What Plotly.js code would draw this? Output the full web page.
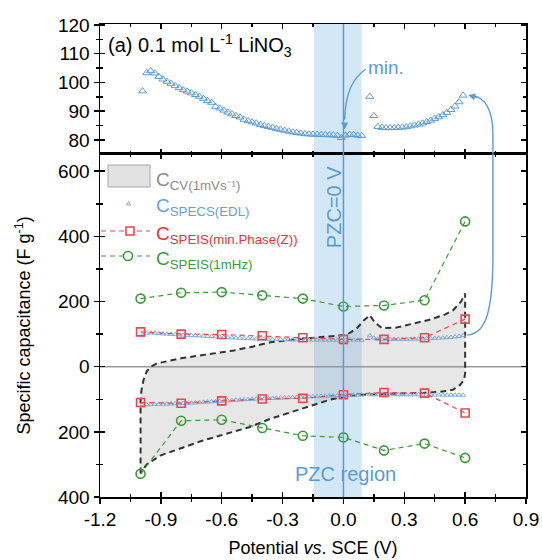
<!DOCTYPE html>
<html><head><meta charset="utf-8">
<script src="https://cdn.plot.ly/plotly-3.0.1.min.js"></script>
<style>html,body{margin:0;padding:0;background:#fff}#chart{width:542px;height:560px}</style>
</head><body><div id="chart"></div>
<script>
// ---- data ----
const potential = [-0.99,-0.97,-0.95,-0.93,-0.91,-0.89,-0.87,-0.85,-0.83,-0.81,
 -0.79,-0.77,-0.75,-0.73,-0.71,-0.69,-0.67,-0.65,-0.63,-0.61,
 -0.59,-0.57,-0.55,-0.53,-0.51,-0.49,-0.47,-0.45,-0.43,-0.41,
 -0.39,-0.37,-0.35,-0.33,-0.31,-0.29,-0.27,-0.25,-0.23,-0.21,
 -0.19,-0.17,-0.15,-0.13,-0.11,-0.09,-0.07,-0.05,-0.03,-0.01,
 0.01,0.03,0.05,0.07,0.09,
 0.13,0.15,0.17,0.19,0.21,0.23,0.25,0.27,0.29,0.31,
 0.33,0.35,0.37,0.39,0.41,0.43,0.45,0.47,0.49,0.51,
 0.53,0.55,0.57,0.59];
const specsPos = [97.0,103.3,104.0,103.2,102.0,101.1,100.3,99.6,98.8,98.1,
 97.4,96.9,96.3,95.7,95.1,94.4,93.6,93.0,91.6,91.0,
 90.3,89.6,89.0,88.4,87.9,87.1,86.6,86.2,85.8,85.3,
 84.9,84.6,84.3,83.9,83.6,83.3,83.0,82.7,82.5,82.3,
 82.1,82.0,81.9,81.9,81.8,81.8,81.7,81.7,81.5,80.8,
 81.6,81.9,81.8,81.6,81.4,
 95.1,88.4,84.6,84.3,84.2,84.2,84.2,84.3,84.4,84.5,
 84.8,85.1,85.4,85.8,86.3,86.8,87.4,88.0,88.7,89.5,
 90.5,91.7,93.2,95.5];
const specsNeg = [-117.0,-116.5,-116.0,-115.6,-115.2,-114.8,-114.4,-114.0,-113.6,-113.2,
 -112.6,-112.0,-111.3,-110.6,-109.8,-109.0,-108.2,-107.4,-106.6,-105.8,
 -105.0,-104.2,-103.4,-102.6,-101.8,-101.0,-100.3,-99.6,-99.0,-98.4,
 -97.8,-97.2,-96.7,-96.2,-95.7,-95.2,-94.7,-94.2,-93.7,-93.2,
 -92.7,-92.2,-91.7,-91.2,-90.7,-90.2,-89.7,-89.2,-88.7,-88.3,
 -88.0,-87.6,-87.2,-86.8,-86.5,
 -86.0,-85.8,-85.6,-85.5,-85.4,-85.4,-85.4,-85.5,-85.6,-85.7,
 -85.8,-85.9,-86.0,-86.1,-86.2,-86.3,-86.4,-86.5,-86.6,-86.7,
 -86.8,-86.9,-87.0,-87.2];
const speisX = [-1.0,-0.8,-0.6,-0.4,-0.2,0.0,0.2,0.4,0.6];
const phasePos = [107,100,99,95,89,84,84,89,146];
const phaseNeg = [-110,-112,-105,-99,-97,-86,-79,-81,-142];
const mhzPos = [209,227,229,219,209,185,188,204,446];
const mhzNeg = [-329,-166,-163,-188,-212,-217,-257,-236,-280];
const cvX = [-1.0,-1.0,-1.0,-0.995,-0.985,-0.97,-0.95,-0.92,-0.85,-0.8,-0.7,-0.62,-0.54,-0.46,-0.36,-0.2,-0.07,0.0,0.03,0.07,0.1,0.13,0.155,0.19,0.26,0.35,0.43,0.5,0.54,0.58,0.6,0.6,0.6,0.6,0.595,0.575,0.54,0.48,0.4,0.3,0.2,0.1,0.0,-0.07,-0.2,-0.36,-0.46,-0.54,-0.62,-0.7,-0.79,-0.9,-0.97,-0.99,-1.0];
const cvY = [-328,-200,-100,-70,-40,-15,0,10,20,26,35,42,50,60,75,86,92,97,103,120,142,158,136,118,120,132,145,160,173,200,225,150,50,-20,-40,-56,-71,-77,-80,-82,-84,-86,-92,-102,-128,-160,-185,-200,-215,-228,-248,-272,-300,-318,-328];
const xTickVals = [-1.2,-0.9,-0.6,-0.3,0.0,0.3,0.6,0.9];
const xTickText = ['-1.2','-0.9','-0.6','-0.3','0.0','0.3','0.6','0.9'];
const xMinor = [-1.05,-0.75,-0.45,-0.15,0.15,0.45,0.75];
const yTickVals = [-400,-200,0,200,400,600];
const yTickText = ['400','200','0','200','400','600'];
const yMinor = [-300,-100,100,300,500];
const y2TickVals = [80,90,100,110,120];
const y2Minor = [85,95,105,115];
const legendNames = ['C<sub>CV(1mVs⁻¹)</sub>','C<sub>SPECS(EDL)</sub>','C<sub>SPEIS(min.Phase(Z))</sub>','C<sub>SPEIS(1mHz)</sub>'];

// ---- style ----
const FONT = 'Liberation Sans, Arial, sans-serif';
const BLUE = '#5b9bd5', RED = '#e8484e', GREEN = '#3a9a3a';
const SPECSBLUE = '#7aaede';
const legendColors = ['#8c8c8c','#6a9fd4','#e8323c','#3c9c3c'];
const DOM = 0.7252;
const M = {l:100, r:16, t:24, b:63}, W = 542, H = 560;
const PW = W - M.l - M.r, PH = H - M.t - M.b;
const px = v => (v - M.l) / PW;           // pixel -> paper x
const py = v => (H - M.b - v) / PH;       // pixel -> paper y

const traces = [
 {x: cvX, y: cvY, mode:'lines', fill:'toself', fillcolor:'rgba(150,150,150,0.23)',
  line:{color:'#333', width:2, dash:'6px,4px'}, xaxis:'x', yaxis:'y', name:'CV'},
 {x: potential, y: specsPos, mode:'markers', marker:{symbol:'triangle-up-open', size:4.5, color:SPECSBLUE, line:{width:1}},
  xaxis:'x', yaxis:'y', name:'SPECS'},
 {x: potential, y: specsNeg, mode:'markers', marker:{symbol:'triangle-up-open', size:4.5, color:SPECSBLUE, line:{width:1}},
  xaxis:'x', yaxis:'y', name:'SPECS'},
 {x: speisX, y: phasePos, mode:'lines+markers', line:{color:RED, width:1.2, dash:'5px,4px'},
  marker:{symbol:'square-open', size:8, color:RED, line:{width:1.6}}, xaxis:'x', yaxis:'y', name:'phase'},
 {x: speisX, y: phaseNeg, mode:'lines+markers', line:{color:RED, width:1.2, dash:'5px,4px'},
  marker:{symbol:'square-open', size:8, color:RED, line:{width:1.6}}, xaxis:'x', yaxis:'y', name:'phase'},
 {x: speisX, y: mhzPos, mode:'lines+markers', line:{color:GREEN, width:1.2, dash:'5px,4px'},
  marker:{symbol:'circle-open', size:9, color:GREEN, line:{width:1.6}}, xaxis:'x', yaxis:'y', name:'mhz'},
 {x: speisX, y: mhzNeg, mode:'lines+markers', line:{color:GREEN, width:1.2, dash:'5px,4px'},
  marker:{symbol:'circle-open', size:9, color:GREEN, line:{width:1.6}}, xaxis:'x', yaxis:'y', name:'mhz'},
 {x: potential, y: specsPos, mode:'markers', marker:{symbol:'triangle-up-open', size:7, color:BLUE, line:{width:1}},
  xaxis:'x2', yaxis:'y2', name:'SPECS top'},
 // empty helper traces so the overlay tick axes exist
 {x: [], y: [], xaxis:'x3', yaxis:'y3', hoverinfo:'skip'},
 {x: [], y: [], xaxis:'x2', yaxis:'y4', hoverinfo:'skip'}
];

const baseAx = {showline:true, linecolor:'#000', linewidth:1.5, tickcolor:'#000', tickwidth:1.5,
  showgrid:false, zeroline:false, tickfont:{family:FONT, size:19, color:'#000'}};
const minorOut = vals => ({tickmode:'array', tickvals:vals, ticks:'outside', ticklen:3, tickcolor:'#000', tickwidth:1.5});
const minorIn = vals => ({tickmode:'array', tickvals:vals, ticks:'inside', ticklen:3, tickcolor:'#000', tickwidth:1.5});

// manual legend (rows at reference pixel positions)
const legendRows = [178, 204, 232, 257];
const legendShapes = [
 {type:'rect', xref:'paper', yref:'paper', x0:px(108), x1:px(150), y0:py(187), y1:py(165),
  fillcolor:'#e2e2e2', line:{color:'#a8a8a8', width:1}},
 {type:'path', xref:'paper', yref:'paper',
  path:`M ${px(126.5)},${py(205)} L ${px(130.5)},${py(205)} L ${px(128.5)},${py(201.5)} Z`,
  fillcolor:'rgba(0,0,0,0)', line:{color:SPECSBLUE, width:1}},
 {type:'line', xref:'paper', yref:'paper', x0:px(101), x1:px(150), y0:py(231), y1:py(231),
  line:{color:RED, width:1.2, dash:'5px,4px'}},
 {type:'rect', xref:'paper', yref:'paper', x0:px(126), x1:px(134), y0:py(235), y1:py(227),
  fillcolor:'#fff', line:{color:RED, width:1.6}},
 {type:'line', xref:'paper', yref:'paper', x0:px(101), x1:px(150), y0:py(256), y1:py(256),
  line:{color:GREEN, width:1.2, dash:'5px,4px'}},
 {type:'circle', xref:'paper', yref:'paper', x0:px(123.5), x1:px(132.5), y0:py(260.5), y1:py(251.5),
  fillcolor:'#fff', line:{color:GREEN, width:1.6}}
];
const legendAnn = legendNames.map((t, i) => ({xref:'paper', yref:'paper', x:px(154), y:py(legendRows[i] + 3),
  xanchor:'left', yanchor:'middle', showarrow:false, text:t,
  font:{family:FONT, size:19, color:legendColors[i]}}));

const layout = {
 width:W, height:H, margin:M,
 paper_bgcolor:'#fff', plot_bgcolor:'rgba(0,0,0,0)',
 font:{family:FONT, color:'#000'},
 showlegend:false,
 xaxis: Object.assign({}, baseAx, {domain:[0,1], anchor:'y', range:[-1.2,0.9],
  tickmode:'array', tickvals:xTickVals, ticktext:xTickText, ticks:'outside', ticklen:5,
  minor:minorOut(xMinor),
  title:{text:'Potential <i>vs</i>. SCE (V)', font:{family:FONT, size:18}, standoff:12}}),
 xaxis3: Object.assign({}, baseAx, {overlaying:'x', anchor:'y', range:[-1.2,0.9], mirror:'ticks',
  tickmode:'array', tickvals:xTickVals, ticks:'inside', ticklen:5, showticklabels:false, minor:minorIn(xMinor)}),
 xaxis2: Object.assign({}, baseAx, {domain:[0,1], anchor:'y2', range:[-1.2,0.9], mirror:'ticks',
  tickmode:'array', tickvals:xTickVals, ticks:'inside', ticklen:5, showticklabels:false, minor:minorIn(xMinor)}),
 yaxis: Object.assign({}, baseAx, {domain:[0,DOM], anchor:'x', range:[-400,653],
  tickmode:'array', tickvals:yTickVals, ticktext:yTickText, ticks:'outside', ticklen:5,
  minor:minorOut(yMinor),
  title:{text:'Specific capacitance (F g<sup>-1</sup>)', font:{family:FONT, size:18}, standoff:22}}),
 yaxis3: Object.assign({}, baseAx, {overlaying:'y', anchor:'x', range:[-400,653], mirror:'ticks',
  tickmode:'array', tickvals:yTickVals, ticks:'inside', ticklen:5, showticklabels:false, minor:minorIn(yMinor)}),
 yaxis2: Object.assign({}, baseAx, {domain:[DOM,1], anchor:'x2', range:[75.1,120.35],
  tickmode:'array', tickvals:y2TickVals, ticks:'outside', ticklen:5, minor:minorOut(y2Minor)}),
 yaxis4: Object.assign({}, baseAx, {overlaying:'y2', anchor:'x2', range:[75.1,120.35], mirror:'ticks',
  tickmode:'array', tickvals:y2TickVals, ticks:'inside', ticklen:5, showticklabels:false, minor:minorIn(y2Minor)}),
 shapes:[
  {type:'rect', xref:'x', yref:'paper', x0:-0.145, x1:0.09, y0:0, y1:1, fillcolor:'rgba(140,195,235,0.38)', line:{width:0}, layer:'below'},
  {type:'line', xref:'paper', yref:'y', x0:0, x1:1, y0:0, y1:0, line:{color:'#9a9a9a', width:1.5}, layer:'below'},
  {type:'line', xref:'x', yref:'paper', x0:0, x1:0, y0:0, y1:1, line:{color:BLUE, width:1.5}},
  {type:'path', xref:'x2', yref:'y2', path:'M 0.11,104.6 Q 0.01,100 0.006,87', line:{color:BLUE, width:1.4}},
  {type:'path', xref:'x', yref:'y', path:'M 0.61,97 C 0.69,100 0.735,150 0.737,330 L 0.737,653', line:{color:BLUE, width:1.4}},
  {type:'path', xref:'x2', yref:'y2', path:'M 0.737,75.1 L 0.737,82 C 0.737,90 0.70,95 0.635,95.4', line:{color:BLUE, width:1.4}}
 ].concat(legendShapes),
 annotations:[
  {xref:'paper', yref:'y2', x:0.014, y:112.8, xanchor:'left', yanchor:'middle', showarrow:false,
   text:'(a) 0.1 mol L<sup>-1</sup> LiNO<sub>3</sub>', font:{family:FONT, size:20, color:'#000'}},
  {xref:'x2', yref:'y2', x:0.112, y:105.3, xanchor:'left', yanchor:'middle', showarrow:false,
   text:'min.', font:{family:FONT, size:19, color:BLUE}},
  {xref:'x', yref:'y', x:-0.046, y:490, textangle:-90, showarrow:false,
   text:'PZC=0 V', font:{family:FONT, size:20, color:BLUE}},
  {xref:'x', yref:'y', x:0.008, y:-329, showarrow:false,
   text:'PZC region', font:{family:FONT, size:20, color:BLUE}},
  {xref:'x2', yref:'y2', x:0.006, y:83.6, ax:0, ay:-12, text:' ', showarrow:true,
   arrowhead:2, arrowsize:1, arrowwidth:1.4, arrowcolor:BLUE},
  {xref:'x2', yref:'y2', x:0.615, y:95.6, ax:12, ay:3, text:' ', showarrow:true,
   arrowhead:2, arrowsize:1, arrowwidth:1.4, arrowcolor:BLUE}
 ].concat(legendAnn)
};

Plotly.newPlot('chart', traces, layout, {displayModeBar:false, staticPlot:true});
</script></body></html>
